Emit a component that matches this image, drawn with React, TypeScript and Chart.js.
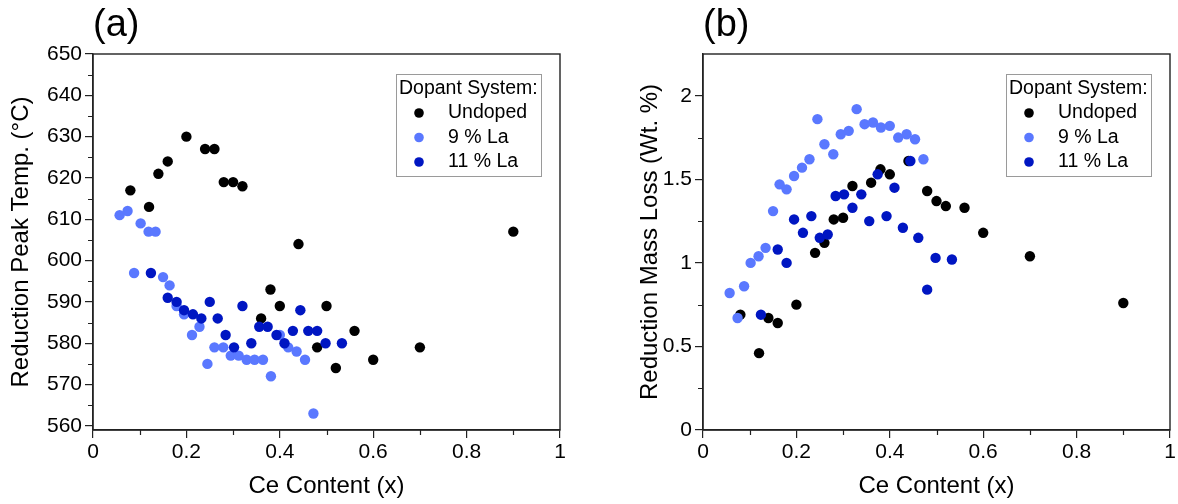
import React, { useEffect, useRef } from "react";
import { Chart, registerables } from "chart.js";

Chart.register(...registerables);

// ---------- data ----------
const seriesLabels = ["Undoped", "9 % La", "11 % La"];
const seriesColors = ["#000000", "#5a78ff", "#0016c2"];
const legendTitle = "Dopant System:";

const xUndoped = [0.08, 0.12, 0.14, 0.16, 0.2, 0.24, 0.26, 0.28, 0.3, 0.32, 0.36, 0.38, 0.4, 0.44, 0.48, 0.5, 0.52, 0.56, 0.6, 0.7, 0.9];
const tempUndoped = [617, 613, 621, 624, 630, 627, 627, 619, 619, 618, 586, 593, 589, 604, 579, 589, 574, 583, 576, 579, 607];
const massUndoped = [0.69, 0.46, 0.67, 0.64, 0.75, 1.06, 1.12, 1.26, 1.27, 1.46, 1.48, 1.56, 1.53, 1.61, 1.43, 1.37, 1.34, 1.33, 1.18, 1.04, 0.76];

const x9La = [0.057, 0.074, 0.088, 0.102, 0.119, 0.134, 0.15, 0.164, 0.179, 0.195, 0.212, 0.228, 0.245, 0.26, 0.279, 0.295, 0.312, 0.329, 0.346, 0.364, 0.381, 0.4, 0.418, 0.436, 0.454, 0.472];
const temp9La = [611, 612, 597, 609, 607, 607, 596, 594, 589, 587, 582, 584, 575, 579, 579, 577, 577, 576, 576, 576, 572, 582, 579, 578, 576, 563];
const mass9La = [0.82, 0.67, 0.86, 1.0, 1.04, 1.09, 1.31, 1.47, 1.44, 1.52, 1.57, 1.62, 1.86, 1.71, 1.65, 1.77, 1.79, 1.92, 1.83, 1.84, 1.81, 1.82, 1.75, 1.77, 1.74, 1.62];

const x11La = [0.124, 0.16, 0.179, 0.195, 0.214, 0.232, 0.25, 0.267, 0.284, 0.302, 0.32, 0.339, 0.356, 0.374, 0.393, 0.41, 0.428, 0.444, 0.461, 0.48, 0.498, 0.533];
const temp11La = [597, 591, 590, 588, 587, 586, 590, 586, 582, 579, 589, 580, 584, 584, 582, 580, 583, 588, 583, 583, 580, 580];
const mass11La = [0.69, 1.08, 1.0, 1.26, 1.18, 1.28, 1.15, 1.17, 1.4, 1.41, 1.33, 1.41, 1.25, 1.53, 1.28, 1.45, 1.21, 1.61, 1.15, 0.84, 1.03, 1.02];

const xTicks = [0, 0.2, 0.4, 0.6, 0.8, 1];
const xTickLabels = ["0", "0.2", "0.4", "0.6", "0.8", "1"];
const xMinorTicks = [0.1, 0.3, 0.5, 0.7, 0.9];

const tempTicks = [560, 570, 580, 590, 600, 610, 620, 630, 640, 650];
const tempTickLabels = ["560", "570", "580", "590", "600", "610", "620", "630", "640", "650"];
const tempMinorTicks = [565, 575, 585, 595, 605, 615, 625, 635, 645];

const massTicks = [0, 0.5, 1, 1.5, 2];
const massTickLabels = ["0", "0.5", "1", "1.5", "2"];
const massMinorTicks = [0.25, 0.75, 1.25, 1.75];

const xTitle = "Ce Content (x)";
const tempTitle = "Reduction Peak Temp. (°C)";
const massTitle = "Reduction Mass Loss (Wt. %)";

const FONT = '"Liberation Sans", Arial, sans-serif';
const AXIS = "#222222";

type PanelCfg = {
  width: number;
  plotLeft: number;
  plotRightPad: number;
  panel: string;
  yTitle: string;
  yTitlePad: number;
  yMin: number;
  yMax: number;
  yTicks: number[];
  yTickLabels: string[];
  yMinor: number[];
  ys: number[][];
};

function makePoints(xs: number[], ys: number[]) {
  return xs.map((x, i) => ({ x, y: ys[i] }));
}

function Panel({ cfg, left }: { cfg: PanelCfg; left: number }) {
  const ref = useRef<HTMLCanvasElement | null>(null);
  useEffect(() => {
    if (!ref.current) return;
    const xsAll = [xUndoped, x9La, x11La];
    const decor = {
      id: "decor",
      afterDatasetsDraw(chart: any) {
        const { ctx, chartArea: ca } = chart;
        ctx.save();
        // frame
        ctx.strokeStyle = AXIS;
        ctx.lineWidth = 1.4;
        ctx.strokeRect(ca.left, ca.top, ca.right - ca.left, ca.bottom - ca.top);
        // minor ticks
        ctx.lineWidth = 1.2;
        ctx.beginPath();
        xMinorTicks.forEach((v) => {
          const px = Math.round(chart.scales.x.getPixelForValue(v)) + 0.5;
          ctx.moveTo(px, ca.bottom);
          ctx.lineTo(px, ca.bottom + 5);
        });
        cfg.yMinor.forEach((v) => {
          const py = Math.round(chart.scales.y.getPixelForValue(v)) + 0.5;
          ctx.moveTo(ca.left, py);
          ctx.lineTo(ca.left - 5, py);
        });
        ctx.stroke();
        // legend
        const bw = 145, bh = 102;
        const bx = ca.right - 19 - bw;
        const by = ca.top + 20;
        ctx.fillStyle = "#ffffff";
        ctx.fillRect(bx, by, bw, bh);
        ctx.strokeStyle = "#9a9a9a";
        ctx.lineWidth = 1;
        ctx.strokeRect(bx + 0.5, by + 0.5, bw, bh);
        ctx.font = `19.5px ${FONT}`;
        ctx.textBaseline = "middle";
        ctx.textAlign = "left";
        ctx.fillStyle = "#000";
        ctx.fillText(legendTitle, bx + 3, by + 15);
        chart.data.datasets.forEach((ds: any, i: number) => {
          const cy = by + 39 + i * 24.5;
          ctx.beginPath();
          ctx.fillStyle = ds.backgroundColor;
          ctx.arc(bx + 23, cy, 4.8, 0, Math.PI * 2);
          ctx.fill();
          ctx.fillStyle = "#000";
          ctx.fillText(ds.label, bx + 52, cy);
        });
        // panel label
        ctx.font = `38px ${FONT}`;
        ctx.fillStyle = "#000";
        ctx.textBaseline = "middle";
        ctx.fillText(cfg.panel, ca.left, 26);
        ctx.restore();
      },
    };
    const chart = new Chart(ref.current, {
      type: "scatter",
      data: {
        datasets: seriesLabels.map((label, i) => ({
          label,
          data: makePoints(xsAll[i], cfg.ys[i]),
          backgroundColor: seriesColors[i],
          borderColor: seriesColors[i],
          pointRadius: 5.2,
          pointBorderWidth: 0,
          pointHoverRadius: 5.2,
          order: 3 - i,
        })),
      },
      options: {
        animation: false,
        responsive: false,
        events: [],
        layout: { padding: { top: 54, right: cfg.plotRightPad, bottom: 0, left: 0 } },
        plugins: {
          legend: { display: false },
          tooltip: { enabled: false },
          title: { display: false },
        },
        scales: {
          x: {
            type: "linear",
            min: 0,
            max: 1,
            afterFit(scale: any) {
              scale.height = 74;
            },
            afterBuildTicks(scale: any) {
              scale.ticks = xTicks.map((v) => ({ value: v }));
            },
            ticks: {
              callback: (v: any) => {
                const i = xTicks.indexOf(Number(v));
                return i >= 0 ? xTickLabels[i] : "";
              },
              font: { family: FONT, size: 21 },
              color: "#000",
              padding: 2,
              maxRotation: 0,
              autoSkip: false,
            },
            grid: { drawOnChartArea: false, drawTicks: true, tickLength: 8, color: AXIS, lineWidth: 1.2 },
            border: { display: true, color: AXIS, width: 1.4 },
            title: {
              display: true,
              text: xTitle,
              font: { family: FONT, size: 24 },
              color: "#000",
              padding: { top: 0, bottom: 3 },
            },
          },
          y: {
            type: "linear",
            min: cfg.yMin,
            max: cfg.yMax,
            afterFit(scale: any) {
              scale.width = cfg.plotLeft;
            },
            afterBuildTicks(scale: any) {
              scale.ticks = cfg.yTicks.map((v) => ({ value: v }));
            },
            ticks: {
              callback: (v: any) => {
                const i = cfg.yTicks.indexOf(Number(v));
                return i >= 0 ? cfg.yTickLabels[i] : "";
              },
              font: { family: FONT, size: 21 },
              color: "#000",
              padding: 3,
              autoSkip: false,
            },
            grid: { drawOnChartArea: false, drawTicks: true, tickLength: 8, color: AXIS, lineWidth: 1.2 },
            border: { display: true, color: AXIS, width: 1.4 },
            title: {
              display: true,
              text: cfg.yTitle,
              font: { family: FONT, size: 24 },
              color: "#000",
              padding: { top: cfg.yTitlePad, bottom: 0 },
            },
          },
        },
      },
      plugins: [decor],
    } as any);
    return () => chart.destroy();
  }, [cfg]);
  return (
    <canvas
      ref={ref}
      width={cfg.width}
      height={504}
      style={{ position: "absolute", left, top: 0, width: cfg.width, height: 504 }}
    />
  );
}

const leftCfg: PanelCfg = {
  width: 590,
  plotLeft: 93,
  plotRightPad: 30,
  panel: "(a)",
  yTitle: tempTitle,
  yTitlePad: 7,
  yMin: 559,
  yMax: 650,
  yTicks: tempTicks,
  yTickLabels: tempTickLabels,
  yMinor: tempMinorTicks,
  ys: [tempUndoped, temp9La, temp11La],
};

const rightCfg: PanelCfg = {
  width: 588,
  plotLeft: 113,
  plotRightPad: 8,
  panel: "(b)",
  yTitle: massTitle,
  yTitlePad: 46,
  yMin: 0,
  yMax: 2.25,
  yTicks: massTicks,
  yTickLabels: massTickLabels,
  yMinor: massMinorTicks,
  ys: [massUndoped, mass9La, mass11La],
};

export default function App() {
  return (
    <div style={{ position: "absolute", left: 0, top: 0, width: 1178, height: 504, background: "#fff" }}>
      <Panel cfg={leftCfg} left={0} />
      <Panel cfg={rightCfg} left={590} />
    </div>
  );
}
